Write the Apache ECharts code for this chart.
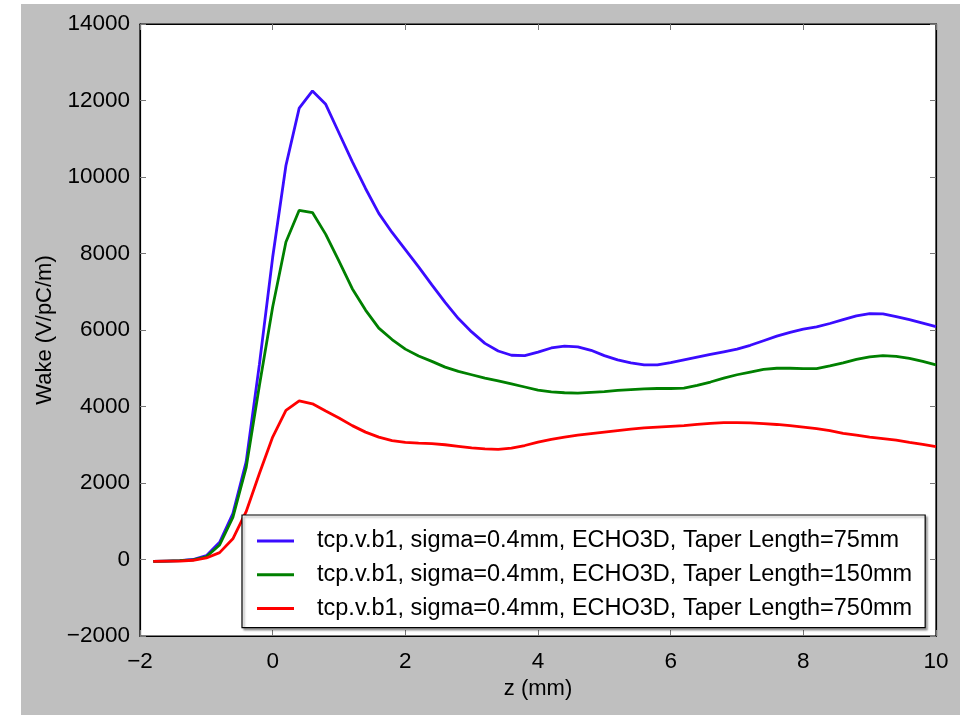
<!DOCTYPE html>
<html>
<head>
<meta charset="utf-8">
<script src="https://cdn.jsdelivr.net/npm/echarts@6/dist/echarts.min.js"></script>
<style>
html,body{margin:0;padding:0;background:#ffffff;width:973px;height:715px;overflow:hidden;}
#chart{position:absolute;left:21px;top:4px;width:939px;height:711px;background:#bfbfbf;}
</style>
</head>
<body>
<div id="chart"></div>
<script>
// z positions (mm)
const zValues = [-1.8,-1.6,-1.4,-1.2,-1.0,-0.8,-0.6,-0.4,-0.2,0.0,
  0.2,0.4,0.6,0.8,1.0,1.2,1.4,1.6,1.8,2.0,
  2.2,2.4,2.6,2.8,3.0,3.2,3.4,3.6,3.8,4.0,
  4.2,4.4,4.6,4.8,5.0,5.2,5.4,5.6,5.8,6.0,
  6.2,6.4,6.6,6.8,7.0,7.2,7.4,7.6,7.8,8.0,
  8.2,8.4,8.6,8.8,9.0,9.2,9.4,9.6,9.8,10.0];

const wake75 = [-50,-40,-30,0,100,450,1200,2550,5100,7900,
  10300,11800,12250,11900,11150,10400,9700,9050,8550,8100,
  7650,7180,6720,6300,5950,5650,5450,5340,5330,5420,
  5530,5580,5560,5470,5330,5220,5140,5090,5090,5150,
  5220,5290,5360,5430,5500,5600,5720,5840,5940,6020,
  6080,6170,6270,6370,6430,6420,6350,6270,6180,6090];

const wake150 = [-50,-40,-30,-10,70,380,1100,2400,4550,6600,
  8300,9130,9070,8500,7800,7080,6520,6050,5750,5500,
  5320,5180,5030,4920,4830,4740,4670,4590,4510,4430,
  4380,4360,4350,4370,4390,4420,4440,4460,4470,4470,
  4480,4550,4640,4740,4830,4900,4970,5000,5000,4990,
  4990,5060,5140,5230,5300,5330,5310,5260,5180,5090];

const wake750 = [-50,-45,-40,-20,40,180,540,1250,2250,3200,
  3900,4150,4070,3880,3700,3500,3330,3200,3110,3060,
  3040,3030,3000,2960,2920,2890,2880,2910,2980,3070,
  3140,3200,3250,3290,3330,3370,3410,3440,3460,3480,
  3500,3530,3560,3580,3580,3570,3550,3530,3500,3460,
  3420,3370,3300,3250,3200,3160,3120,3060,3010,2950];

const seriesNames = [
  'tcp.v.b1, sigma=0.4mm, ECHO3D, Taper Length=75mm',
  'tcp.v.b1, sigma=0.4mm, ECHO3D, Taper Length=150mm',
  'tcp.v.b1, sigma=0.4mm, ECHO3D, Taper Length=750mm'
];
const seriesValues = [wake75, wake150, wake750];
const seriesColors = ['#3a0cff', '#008000', '#ff0000'];

const xLabel = 'z (mm)';
const yLabel = 'Wake (V/pC/m)';

const FONT = 'Liberation Sans, Arial, Helvetica, sans-serif';
const minusFmt = v => String(v).replace('-', '\u2212');

const chart = echarts.init(document.getElementById('chart'), null, {renderer: 'canvas'});

const tickStyle = {show: true, inside: true, length: 6, lineStyle: {color: '#777', width: 1}};
const axisLineStyle = {show: true, onZero: false, lineStyle: {color: '#000', width: 1.2}};

const option = {
  backgroundColor: '#bfbfbf',
  animation: false,
  textStyle: {fontFamily: FONT},
  grid: {left: 119, right: 24, top: 20, bottom: 79, show: true, backgroundColor: '#ffffff', borderColor: '#000', borderWidth: 1.2, containLabel: false},
  legend: {
    orient: 'vertical',
    left: 221, top: 511,
    backgroundColor: '#ffffff',
    borderColor: '#000', borderWidth: 1.2,
    shadowColor: 'rgba(0,0,0,0.35)', shadowBlur: 2, shadowOffsetX: 2, shadowOffsetY: 2,
    padding: [14, 13, 7, 15],
    itemGap: 9.8,
    itemWidth: 37, itemHeight: 3,
    icon: 'rect',
    textStyle: {fontFamily: FONT, fontSize: 23.5, color: '#000', lineHeight: 23.5, padding: [0, 0, 0, 18]},
    data: seriesNames
  },
  xAxis: [{
    type: 'value', min: -2, max: 10, interval: 2,
    position: 'bottom',
    name: xLabel, nameLocation: 'middle', nameGap: 42,
    nameTextStyle: {fontFamily: FONT, fontSize: 22, color: '#000'},
    axisLine: axisLineStyle, axisTick: tickStyle,
    axisLabel: {fontFamily: FONT, fontSize: 22.5, color: '#000', margin: 14, formatter: minusFmt},
    splitLine: {show: false}
  }, {
    type: 'value', min: -2, max: 10, interval: 2,
    position: 'top',
    axisLine: axisLineStyle, axisTick: tickStyle,
    axisLabel: {show: false}, splitLine: {show: false}
  }],
  yAxis: [{
    type: 'value', min: -2000, max: 14000, interval: 2000,
    position: 'left',
    name: yLabel, nameLocation: 'middle', nameGap: 78, nameRotate: 90,
    nameTextStyle: {fontFamily: FONT, fontSize: 22, color: '#000'},
    axisLine: axisLineStyle, axisTick: tickStyle,
    axisLabel: {fontFamily: FONT, fontSize: 22.5, color: '#000', margin: 10, formatter: minusFmt},
    splitLine: {show: false}
  }, {
    type: 'value', min: -2000, max: 14000, interval: 2000,
    position: 'right',
    axisLine: axisLineStyle, axisTick: tickStyle,
    axisLabel: {show: false}, splitLine: {show: false}
  }],
  series: seriesNames.map((name, k) => ({
    name: name,
    type: 'line',
    xAxisIndex: 0, yAxisIndex: 0,
    symbol: 'none',
    smooth: false,
    lineStyle: {color: seriesColors[k], width: 2.8},
    itemStyle: {color: seriesColors[k]},
    data: zValues.map((z, i) => [z, seriesValues[k][i]])
  }))
};
chart.setOption(option);
</script>
</body>
</html>
